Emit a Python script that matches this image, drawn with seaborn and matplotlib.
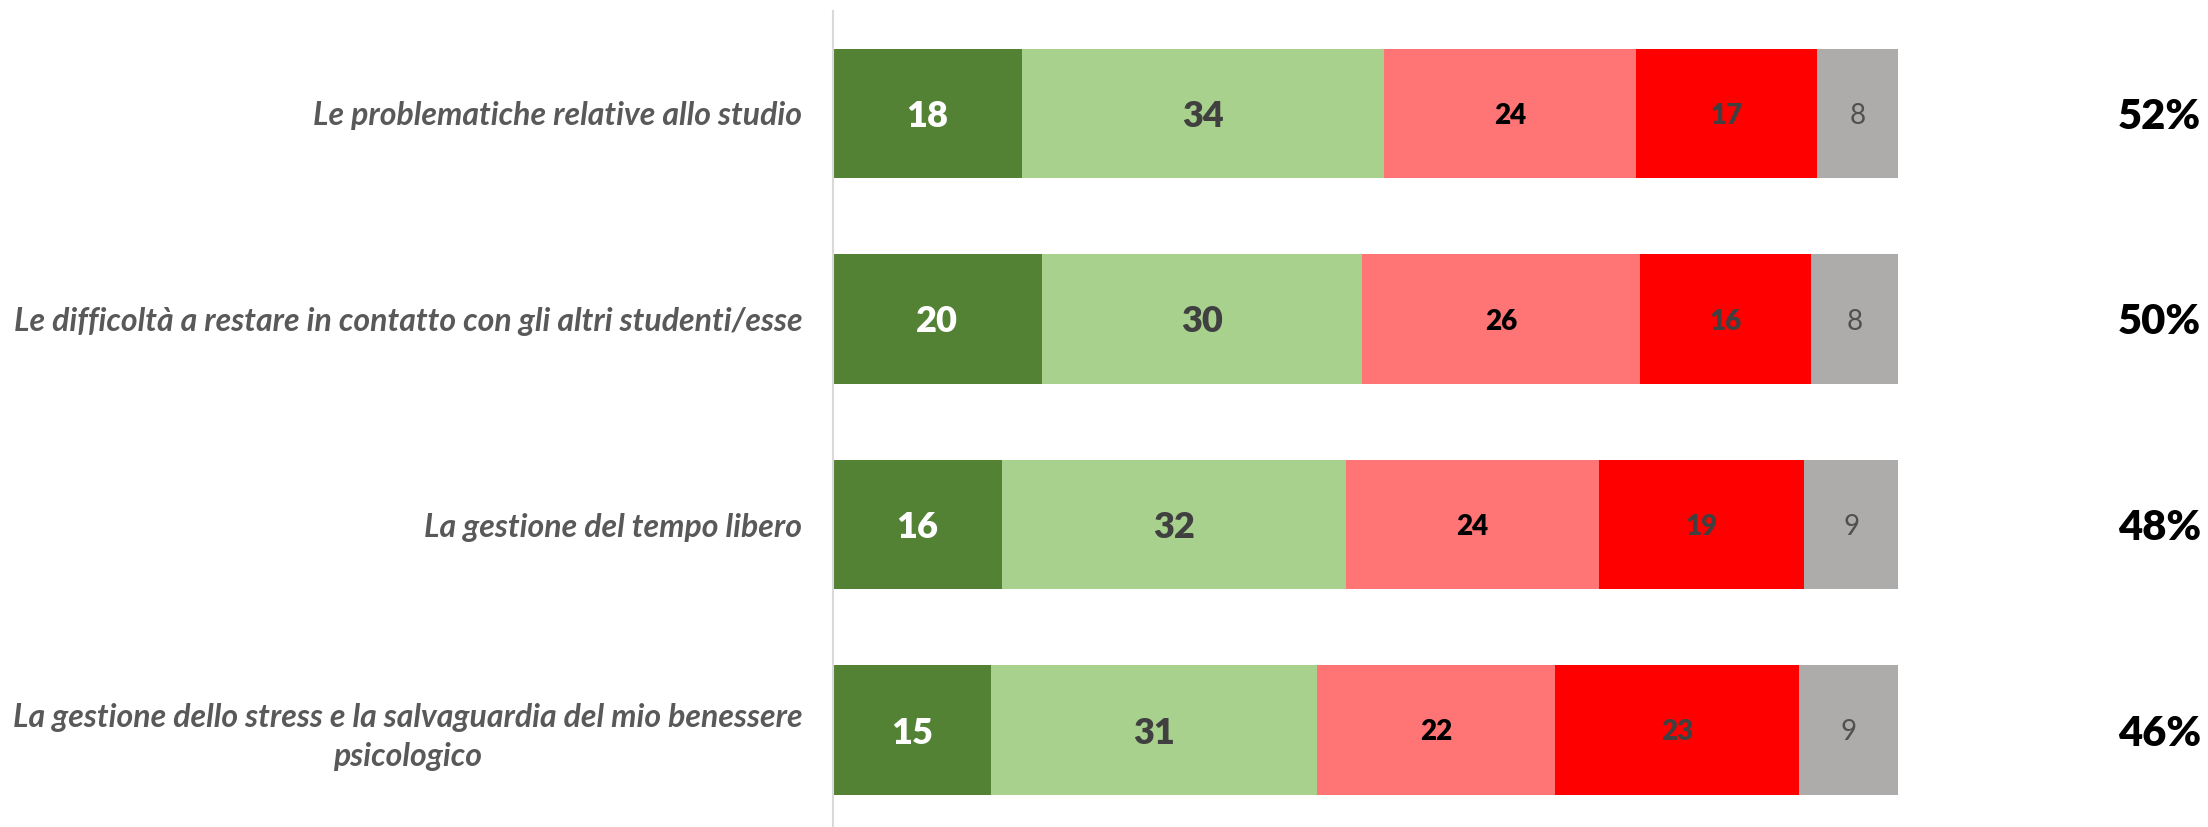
import numpy as np
import pandas as pd
import matplotlib
matplotlib.use("Agg")
import matplotlib.pyplot as plt
import matplotlib.transforms as mtransforms
import seaborn as sns

# Data (segment widths in %, labels shown rounded)
categories = [
    "Le problematiche relative allo studio",
    "Le difficoltà a restare in contatto con gli altri studenti/esse",
    "La gestione del tempo libero",
    "La gestione dello stress e la salvaguardia del mio benessere\npsicologico",
]
molto = [17.7, 19.6, 15.9, 14.8]
abbastanza = [34.0, 30.1, 32.3, 30.6]
poco = [23.7, 26.1, 23.7, 22.4]
per_niente = [17.0, 16.0, 19.3, 22.9]
non_so = [7.6, 8.2, 8.8, 9.3]
segment_labels = [
    [18, 34, 24, 17, 8],
    [20, 30, 26, 16, 8],
    [16, 32, 24, 19, 9],
    [15, 31, 22, 23, 9],
]
top2 = ["52%", "50%", "48%", "46%"]

series = [molto, abbastanza, poco, per_niente, non_so]
colors = ["#548235", "#A9D18E", "#FF7575", "#FF0000", "#AEABAB"]
txt_colors = ["white", "#404040", "black", "#404040", "#505050"]
txt_sizes = [26, 26, 20, 20, 20]
txt_weights = ["heavy", "heavy", "heavy", "heavy", "normal"]

sns.set_theme(style="white")
plt.rcParams["font.family"] = ["Lato", "DejaVu Sans"]

fig = plt.figure(figsize=(22.08, 8.27), dpi=100)
ax = fig.add_axes([833 / 2208, 1 - 832.75 / 827, 1065 / 2208, 822 / 827])

# stacked bars: draw cumulative totals from longest to shortest
cum = np.cumsum(np.array(series), axis=0)
for i in range(len(series) - 1, -1, -1):
    df = pd.DataFrame({"cat": categories, "val": cum[i]})
    sns.barplot(data=df, x="val", y="cat", orient="h", color=colors[i],
                saturation=1, width=0.63, ax=ax, linewidth=0)

# value labels in the middle of each segment
for i in range(len(series)):
    for r in range(len(categories)):
        mid = cum[i][r] - series[i][r] / 2
        ax.text(mid, r, str(segment_labels[r][i]), ha="center", va="center_baseline",
                color=txt_colors[i], fontsize=txt_sizes[i], fontweight=txt_weights[i])

# percentages on the right
trans = mtransforms.blended_transform_factory(fig.transFigure, ax.transData)
for r, p in enumerate(top2):
    ax.text(2201 / 2208, r, p, transform=trans, ha="right", va="center_baseline",
            fontsize=30, fontweight="heavy", color="black", clip_on=False)

ax.set_xlim(0, 100)
ax.set_ylim(3.5, -0.5)
ax.set_xlabel("")
ax.set_ylabel("")
ax.set_xticks([])
ax.tick_params(axis="y", length=0, pad=22)
for t in ax.get_yticklabels():
    t.set_fontsize(23)
    t.set_fontstyle("italic")
    t.set_fontweight("bold")
    t.set_color("#595959")
    t.set_multialignment("center")
    t.set_linespacing(1.4)

for s in ["top", "right", "bottom"]:
    ax.spines[s].set_visible(False)
ax.spines["left"].set_color("#D9D9D9")
ax.spines["left"].set_linewidth(1.5)

fig.savefig("out.png", dpi=100)
